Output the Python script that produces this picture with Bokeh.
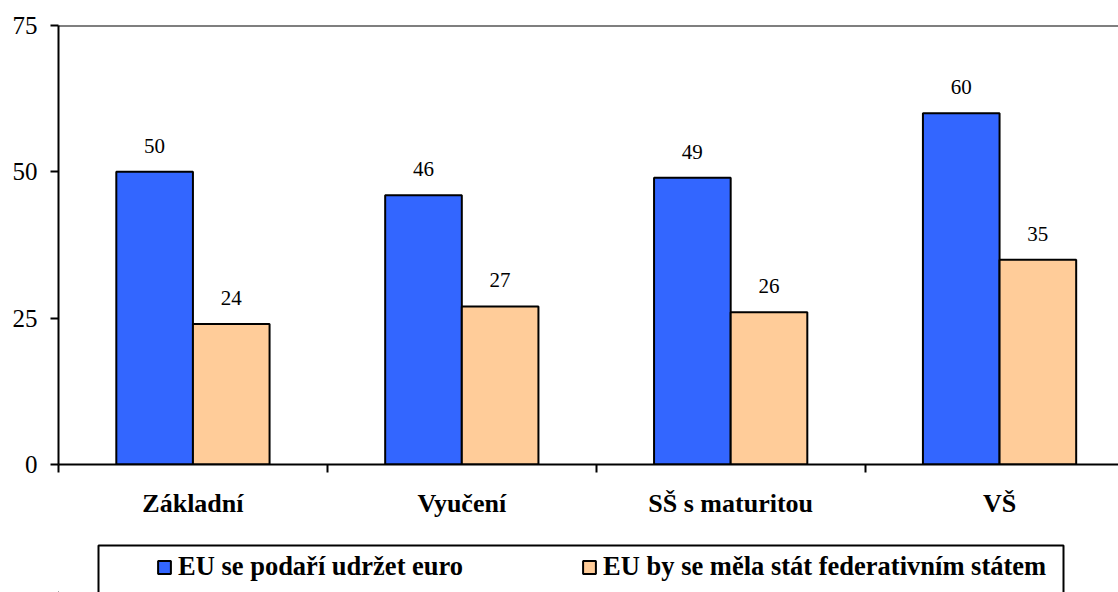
from bokeh.plotting import figure
from bokeh.layouts import column
from bokeh.models import (ColumnDataSource, Range1d, FixedTicker, Span,
                          LabelSet, Legend, LegendItem)
from bokeh.embed import file_html
from bokeh.resources import INLINE

categories = ["Základní", "Vyučení", "SŠ s maturitou", "VŠ"]
euro = [50, 46, 49, 60]
federal = [24, 27, 26, 35]
series_names = ["EU se podaří udržet euro", "EU by se měla stát federativním státem"]
y_ticks = [0, 25, 50, 75]

BLUE = "#3366FF"
PEACH = "#FFCC99"
FONT = "Liberation Serif"
BW = 0.285
W = 1118
L = 58

centers = [i + 0.5 for i in range(len(categories))]
bounds = list(range(len(categories) + 1))
src_a = ColumnDataSource(dict(x=[c - BW / 2 for c in centers], top=euro,
                              lab=[str(v) for v in euro]))
src_b = ColumnDataSource(dict(x=[c + BW / 2 for c in centers], top=federal,
                              lab=[str(v) for v in federal]))

p = figure(width=W, height=540, output_backend="svg", toolbar_location=None,
           x_range=Range1d(0, (W - 57.5) / 269.0), y_range=Range1d(0, 75),
           min_border_left=L, min_border_right=0,
           min_border_top=25, min_border_bottom=76)
p.outline_line_color = None
p.xgrid.visible = False
p.ygrid.visible = False

p.vbar(x="x", top="top", width=BW, source=src_a, fill_color=BLUE,
       line_color="black", line_width=2)
p.vbar(x="x", top="top", width=BW, source=src_b, fill_color=PEACH,
       line_color="black", line_width=2)

for src in (src_a, src_b):
    p.add_layout(LabelSet(x="x", y="top", text="lab", source=src, y_offset=19,
                          text_align="center", text_baseline="bottom",
                          text_font=FONT, text_font_size="21px", text_color="black"))

p.add_layout(Span(location=75, dimension="width", line_color="black", line_width=2))

# y axis
ya = p.yaxis[0]
ya.ticker = FixedTicker(ticks=y_ticks)
ya.axis_line_width = 2
ya.major_tick_line_width = 2
ya.major_tick_out = 8
ya.major_tick_in = 0
ya.minor_tick_line_color = None
ya.major_label_text_font = FONT
ya.major_label_text_font_size = "25px"
ya.major_label_text_color = "black"
ya.major_label_standoff = 13

# x axis: labels at centers, minor ticks at category boundaries
xa = p.xaxis[0]
xa.ticker = FixedTicker(ticks=centers, minor_ticks=bounds)
xa.major_label_overrides = {c: n for c, n in zip(centers, categories)}
xa.axis_line_width = 2
xa.major_tick_line_color = None
xa.major_tick_out = 0
xa.major_tick_in = 0
xa.minor_tick_line_width = 2
xa.minor_tick_out = 8
xa.minor_tick_in = 0
xa.major_label_text_font = FONT
xa.major_label_text_font_size = "26px"
xa.major_label_text_font_style = "bold"
xa.major_label_text_color = "black"
xa.major_label_standoff = 16

# legend strip (frame aligned with the main plot's frame at x = L)
lg = figure(width=W, height=52, output_backend="svg", toolbar_location=None,
            x_range=Range1d(L, W), y_range=Range1d(52, 0),
            min_border_left=L, min_border_right=0, min_border_top=0,
            min_border_bottom=0, x_axis_type=None, y_axis_type=None)
lg.outline_line_color = None
lg.xgrid.visible = False
lg.ygrid.visible = False
lg.quad(left=[98], right=[1063], top=[5], bottom=[70], fill_alpha=0,
        line_color="black", line_width=2)
da = lg.vbar(x=[-500], top=[300], bottom=[299], width=1, fill_color=BLUE,
             line_color="black", line_width=2)
db = lg.vbar(x=[-500], top=[300], bottom=[299], width=1, fill_color=PEACH,
             line_color="black", line_width=2)

legend = Legend(items=[LegendItem(label=series_names[0], renderers=[da]),
                       LegendItem(label=series_names[1], renderers=[db])],
                orientation="horizontal", location=(98, 10),
                label_text_font=FONT, label_text_font_size="26.5px",
                label_text_font_style="bold", label_text_color="black",
                border_line_color=None, background_fill_alpha=0,
                glyph_width=16, glyph_height=16, label_standoff=6,
                spacing=118, padding=8, margin=0, label_height=20)
lg.add_layout(legend, "center")

layout = column(p, lg, spacing=0)
open("out.html", "w").write(file_html(layout, INLINE))
